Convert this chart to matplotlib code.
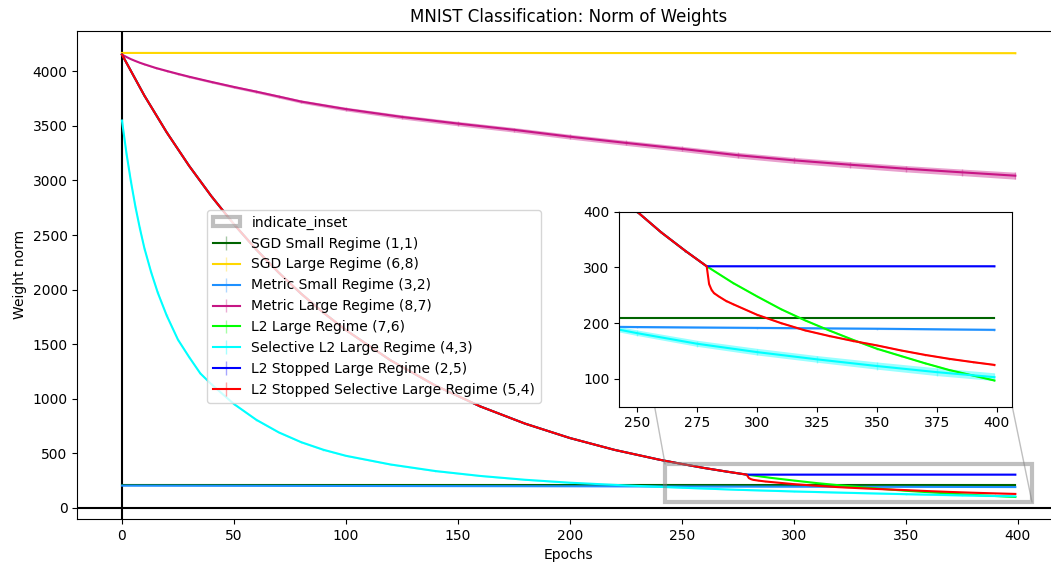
import matplotlib
matplotlib.use("Agg")
import matplotlib.pyplot as plt
from matplotlib.patches import Patch

# ---------------- data: weight norm per epoch ----------------
sgd_small_epochs = [0, 100, 200, 300, 399]
sgd_small_norm = [210, 210, 210, 210, 210]
sgd_small_err = [1.5, 1.5, 1.5, 1.5, 1.5]

sgd_large_epochs = [0, 100, 200, 300, 399]
sgd_large_norm = [4170, 4170, 4169, 4169, 4168]
sgd_large_err = [4, 4, 4, 4, 4]

metric_small_epochs = [0, 50, 100, 150, 200, 250, 300, 350, 399]
metric_small_norm = [201, 199.5, 198, 196.5, 195, 193, 191.5, 190, 188]
metric_small_err = [1.5, 1.5, 1.5, 1.5, 1.5, 1.5, 1.5, 1.5, 1.5]

metric_large_epochs = [0, 2, 4, 6, 8, 10, 15, 20, 25, 30, 40, 50, 60, 70, 80,
                       100, 125, 150, 175, 200, 225, 250, 275, 300, 325, 350,
                       375, 399]
metric_large_norm = [4155, 4133, 4113, 4096, 4080, 4066, 4033, 4005, 3978,
                     3952, 3904, 3858, 3815, 3770, 3724, 3655, 3583, 3522,
                     3465, 3402, 3345, 3290, 3232, 3185, 3145, 3108, 3075,
                     3044]
metric_large_err = [0, 2, 3, 4, 5, 6, 7, 8, 9, 10, 11, 12, 13, 14, 15, 17,
                    19, 20, 21, 22, 23, 24, 26, 27, 28, 29, 30, 32]

l2_epochs = [0, 10, 20, 30, 40, 50, 60, 70, 80, 90, 100, 120, 140, 160, 180,
             200, 220, 240, 250, 260, 270, 279, 290, 300, 310, 320, 330, 340,
             350, 360, 370, 380, 390, 399]
l2_norm = [4155, 3779, 3441, 3134, 2854, 2599, 2366, 2155, 1962, 1787, 1628,
           1350, 1119, 928, 770, 638, 529, 439, 400, 363, 330, 302, 272, 248,
           225, 205, 187, 170, 154, 141, 128, 116, 106, 97]
l2_err = [0, 3, 3, 3, 3, 3, 3, 3, 3, 2, 2, 2, 2, 2, 2, 2, 2, 1.5, 1.5, 1.5,
          1.5, 1.5, 1.5, 1.5, 1.5, 1.5, 1.5, 1.5, 1.5, 1.5, 1.5, 1.5, 1.5, 1.5]

selective_epochs = [0, 2, 4, 6, 8, 10, 13, 16, 20, 25, 30, 35, 40, 50, 60, 70,
                    80, 90, 100, 120, 140, 160, 180, 200, 225, 250, 275, 300,
                    325, 350, 375, 399]
selective_norm = [3550, 3250, 2990, 2760, 2560, 2380, 2160, 1970, 1760, 1540,
                  1380, 1230, 1130, 950, 805, 690, 600, 530, 475, 395, 335,
                  290, 255, 228, 203, 182, 163, 148, 135, 123, 112, 103]
selective_err = [20, 18, 17, 16, 15, 14, 13, 12, 11, 10, 10, 9, 9, 8, 8,
                 7, 7, 7, 6, 6, 6, 5, 5, 5, 5, 5, 5.5, 6, 6, 6.5, 7, 7]

# stopped runs share the L2 path until epoch 279
stopped_epochs = l2_epochs[:22] + [280, 399]
stopped_norm = l2_norm[:22] + [302, 302]
stopped_err = l2_err[:22] + [1.5, 1.5]

stopped_sel_epochs = l2_epochs[:22] + [280, 281, 282, 284, 287, 290, 300, 310,
                                       320, 330, 340, 350, 360, 370, 380, 390,
                                       399]
stopped_sel_norm = l2_norm[:22] + [270, 260, 254, 248, 240, 234, 215, 200,
                                   187, 177, 168, 160, 151, 143, 136, 130, 125]
stopped_sel_err = l2_err[:22] + [1.5] * 17

series = [
    ("SGD Small Regime (1,1)", "darkgreen", sgd_small_epochs, sgd_small_norm, sgd_small_err),
    ("SGD Large Regime (6,8)", "gold", sgd_large_epochs, sgd_large_norm, sgd_large_err),
    ("Metric Small Regime (3,2)", "dodgerblue", metric_small_epochs, metric_small_norm, metric_small_err),
    ("Metric Large Regime (8,7)", "mediumvioletred", metric_large_epochs, metric_large_norm, metric_large_err),
    ("L2 Large Regime (7,6)", "lime", l2_epochs, l2_norm, l2_err),
    ("Selective L2 Large Regime (4,3)", "cyan", selective_epochs, selective_norm, selective_err),
    ("L2 Stopped Large Regime (2,5)", "blue", stopped_epochs, stopped_norm, stopped_err),
    ("L2 Stopped Selective Large Regime (5,4)", "red", stopped_sel_epochs, stopped_sel_norm, stopped_sel_err),
]

W, H = 1051, 569
fig = plt.figure(figsize=(W / 100, H / 100), dpi=100)
ax = fig.add_axes([77.3 / W, (H - 519) / H, 982.7 / W, 488.3 / H])
axins = fig.add_axes([619.3 / W, (H - 406.7) / H, 393 / W, 195 / H])


def draw(a):
    handles = []
    for label, color, ep, val, err in series:
        lo = [v - e for v, e in zip(val, err)]
        hi = [v + e for v, e in zip(val, err)]
        a.fill_between(ep, lo, hi, color=color, alpha=0.4, linewidth=0)
        h = a.errorbar(ep, val, yerr=err, color=color, ecolor=color,
                       elinewidth=1, label=label)
        for c in h[2]:
            c.set_alpha(0.35)
        handles.append(h)
    return handles


handles = draw(ax)
draw(axins)

ax.axhline(0, color="black", linewidth=1.5)
ax.axvline(0, color="black", linewidth=1.5)
ax.set_xlim(-19.95, 418.95)
ax.set_ylim(-105, 4374)
ax.spines["right"].set_visible(False)
ax.set_title("MNIST Classification: Norm of Weights")
ax.set_xlabel("Epochs")
ax.set_ylabel("Weight norm")

axins.set_xlim(242.55, 406.45)
axins.set_ylim(50, 400)
axins.set_xticks([250, 275, 300, 325, 350, 375, 400])
axins.set_yticks([100, 200, 300, 400])

ind = ax.indicate_inset_zoom(axins, edgecolor="0.5", alpha=0.5, linewidth=3)
for c in ind.connectors:
    c.set_linewidth(1)

inset_handle = Patch(facecolor="white", edgecolor="0.5", alpha=0.5, linewidth=3)
ax.legend([inset_handle] + handles,
          ["indicate_inset"] + [s[0] for s in series],
          loc="upper left", bbox_to_anchor=(0.132, 0.633), borderaxespad=0)

fig.savefig("out.png", dpi=100)
